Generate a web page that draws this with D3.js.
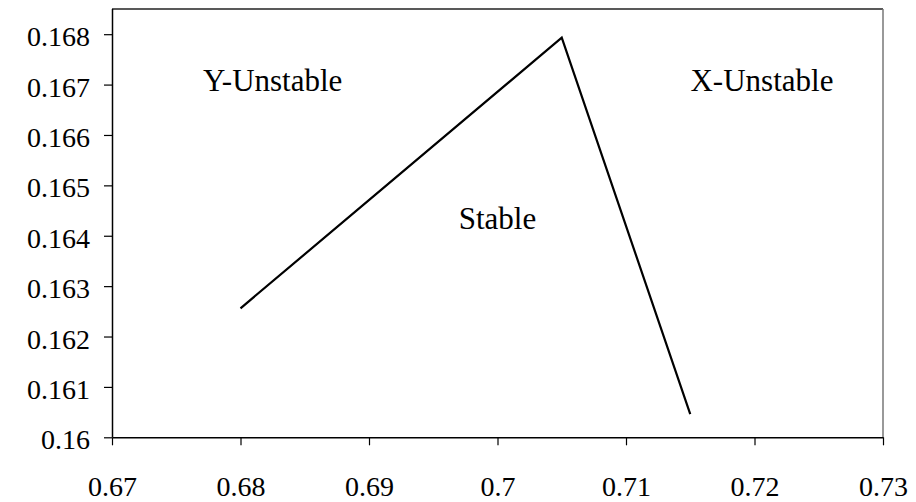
<!DOCTYPE html>
<html>
<head>
<meta charset="utf-8">
<script src="https://cdn.jsdelivr.net/npm/d3@7"></script>
<style>
  html, body { margin: 0; padding: 0; background: #fff; }
  svg { display: block; }
  svg text { font-family: "Liberation Serif", "Times New Roman", serif !important; }
</style>
</head>
<body>
<svg id="chart" width="916" height="502"></svg>
<script>
// Data
const xValues = [0.68, 0.705, 0.715];
const yValues = [0.16256, 0.16793, 0.16046];
const xTicks = [0.67, 0.68, 0.69, 0.70, 0.71, 0.72, 0.73];
const yTicks = [0.160, 0.161, 0.162, 0.163, 0.164, 0.165, 0.166, 0.167, 0.168];
const labelTexts = ["Y-Unstable", "X-Unstable", "Stable"];
const labelX = [0.6825, 0.72058, 0.7000];
const labelY = [0.16688, 0.16688, 0.16413];

(function () {
const svg = d3.select("#chart");
const mLeft = 112, mRight = 883, mTop = 9, mBottom = 437.3;
const fsTick = 28, fsLabel = 31;

const x = d3.scaleLinear().domain([0.67, 0.73]).range([mLeft, mRight]);
const y = d3.scaleLinear().domain([0.16, 0.1685]).range([mBottom, mTop]);

// plot area border (top/right)
svg.append("line").attr("x1", mLeft).attr("x2", mRight).attr("y1", mTop).attr("y2", mTop)
  .attr("stroke", "#222").attr("stroke-width", 1.5);
svg.append("line").attr("x1", mRight).attr("x2", mRight).attr("y1", mTop).attr("y2", mBottom)
  .attr("stroke", "#777").attr("stroke-width", 1.5);

// axes
const fmtX = d => String(+d.toFixed(2));
const fmtY = d => String(+d.toFixed(3));

const xAxis = svg.append("g").attr("transform", `translate(0,${mBottom})`)
  .call(d3.axisBottom(x).tickValues(xTicks).tickFormat(fmtX).tickSize(8).tickSizeOuter(0));
xAxis.attr("font-family", null).attr("font-size", fsTick);
xAxis.select(".domain").attr("stroke", "#000").attr("stroke-width", 1.5);
xAxis.selectAll(".tick line").attr("stroke", "#000").attr("stroke-width", 1.2);
xAxis.selectAll(".tick text").attr("font-size", fsTick)
  .attr("fill", "#000").attr("y", 0).attr("dy", "58.5px");

const yAxis = svg.append("g").attr("transform", `translate(${mLeft},0)`)
  .call(d3.axisLeft(y).tickValues(yTicks).tickFormat(fmtY).tickSize(8).tickSizeOuter(0));
yAxis.attr("font-family", null).attr("font-size", fsTick);
yAxis.select(".domain").attr("stroke", "#000").attr("stroke-width", 1.5)
  .attr("d", `M0.5,${mBottom}V${mTop}`);
yAxis.selectAll(".tick line").attr("stroke", "#000").attr("stroke-width", 1.2);
yAxis.selectAll(".tick text").attr("font-size", fsTick)
  .attr("fill", "#000").attr("x", -22).attr("dy", "11.5px");

// line
const pts = xValues.map((v, i) => [v, yValues[i]]);
svg.append("path").datum(pts)
  .attr("fill", "none").attr("stroke", "#000").attr("stroke-width", 2.2)
  .attr("stroke-linejoin", "miter")
  .attr("d", d3.line().x(d => x(d[0])).y(d => y(d[1])));

// region labels
svg.selectAll("text.region").data(labelTexts).enter().append("text")
  .attr("class", "region")
  .attr("x", (d, i) => x(labelX[i]))
  .attr("y", (d, i) => y(labelY[i]))
  .attr("text-anchor", "middle")
  .attr("font-size", fsLabel)
  .attr("fill", "#000")
  .text(d => d);
})();
</script>
</body>
</html>
